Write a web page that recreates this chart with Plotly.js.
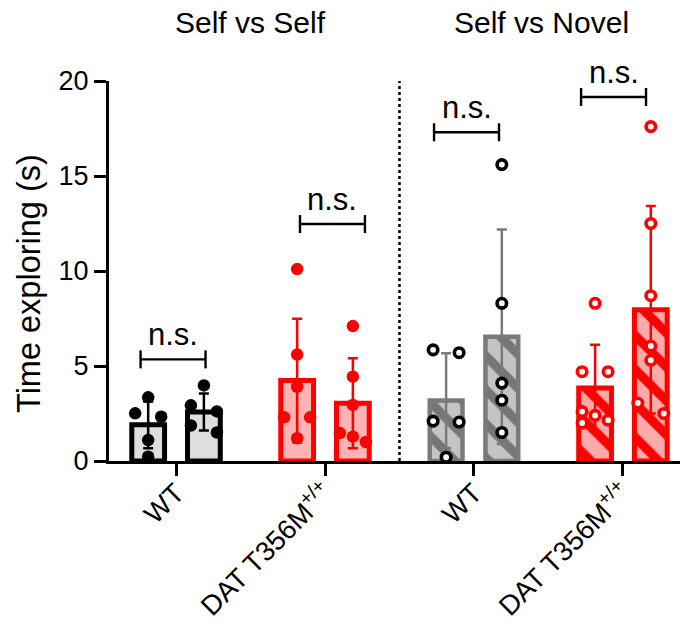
<!DOCTYPE html>
<html>
<head>
<meta charset="utf-8">
<script src="https://cdn.plot.ly/plotly-3.0.1.min.js"></script>
<style>
  html, body { margin: 0; padding: 0; background: #fff; }
  #chart { width: 680px; height: 632px; }
</style>
</head>
<body>
<div id="chart"></div>
<script>
// ---- data -------------------------------------------------------------
const genotypes = ['WT', 'DAT T356M<sup>+/+</sup>', 'WT', 'DAT T356M<sup>+/+</sup>'];
const sessions = ['Self vs Self', 'Self vs Novel'];
const comparisons = ['n.s.', 'n.s.', 'n.s.', 'n.s.'];
const yAxisTitle = 'Time exploring (s)';
const yTicks = [0, 5, 10, 15, 20];

// time exploring (s) per animal, first and second stimulus of each pair
const wtSelfFirst    = [3.35, 2.51, 2.33, 1.1, 0.23];
const wtSelfSecond   = [3.98, 2.93, 2.61, 1.87, 1.5];
const datSelfFirst   = [10.1, 5.6, 3.9, 2.3, 2.3, 1.2];
const datSelfSecond  = [7.1, 4.44, 2.95, 1.47, 1.28, 1.0];
const wtNovelFirst   = [5.85, 5.7, 2.1, 2.05, 0.2];
const wtNovelSecond  = [15.6, 8.3, 4.1, 3.2, 1.5];
const datNovelFirst  = [8.3, 4.7, 4.7, 2.6, 2.4, 2.15, 2.0];
const datNovelSecond = [17.6, 12.5, 8.7, 6.05, 5.3, 3.05, 2.5];

// ---- geometry & styles -----------------------------------------------
const W = 680, H = 632;
const margin = { l: 109, r: 0, t: 81, b: 171, pad: 0 };
const xRange = [-0.45, 3.383];
const yRange = [0, 20];
const plotW = W - margin.l - margin.r;
const plotH = H - margin.t - margin.b;
const pxPerX = plotW / (xRange[1] - xRange[0]);
const pxPerY = plotH / (yRange[1] - yRange[0]);

const barOffset = 0.187;     // distance of each bar from its category tick
const barWidth = 0.22;
const FONT = 'Arial, "Liberation Sans", Helvetica, sans-serif';

const styles = [
  { fill: '#dedede', line: '#000000', lineW: 5,   err: '#000000', dot: '#000000', open: false },
  { fill: '#ffb3b3', line: '#ff0000', lineW: 5,   err: '#ff0000', dot: '#ff0000', open: false },
  { fill: '#c4c4c4', line: '#7a7a7a', lineW: 4.5, err: '#7a7a7a', dot: '#000000', open: true, hatch: '#767676' },
  { fill: '#ffaaaa', line: '#ff0000', lineW: 5,   err: '#ff0000', dot: '#ff0000', open: true, hatch: '#ff0000' }
];

const groups = [
  [wtSelfFirst, wtSelfSecond],
  [datSelfFirst, datSelfSecond],
  [wtNovelFirst, wtNovelSecond],
  [datNovelFirst, datNovelSecond]
];

// ---- helpers ------------------------------------------------------------
const mean = a => a.reduce((s, v) => s + v, 0) / a.length;
const sd = a => {
  const m = mean(a);
  return Math.sqrt(a.reduce((s, v) => s + (v - m) * (v - m), 0) / (a.length - 1));
};

// spread points of similar value side by side (simple column swarm)
function swarmOffsets(values) {
  const step = 13 / pxPerX;
  const order = values.map((v, i) => i).sort((a, b) => values[b] - values[a]);
  const offs = new Array(values.length).fill(0);
  let cluster = [];
  const flush = () => {
    const n = cluster.length;
    cluster.forEach((idx, k) => {
      if (n === 1) offs[idx] = 0;
      else if (n === 2) offs[idx] = (k === 0 ? -1 : 1) * step;
      else offs[idx] = [-1, 0, 1][k % 3] * step;
    });
    cluster = [];
  };
  order.forEach(idx => {
    if (cluster.length) {
      const prev = values[cluster[cluster.length - 1]];
      if ((prev - values[idx]) * pxPerY >= 12) flush();
    }
    cluster.push(idx);
  });
  flush();
  return offs;
}

// ---- traces -------------------------------------------------------------
const traces = [];
groups.forEach((pair, g) => {
  const st = styles[g];
  const xs = [g - barOffset, g + barOffset];
  const marker = {
    color: st.fill,
    line: { color: st.line, width: st.lineW }
  };
  if (st.hatch) {
    marker.pattern = { shape: '\\', fgcolor: st.hatch, bgcolor: st.fill, size: 24, solidity: 0.38 };
  }
  traces.push({
    type: 'bar',
    x: xs,
    y: pair.map(mean),
    width: [barWidth, barWidth],
    marker: marker,
    error_y: { type: 'data', array: pair.map(sd), visible: true, color: st.err, thickness: 2.5, width: 5 },
    hoverinfo: 'skip',
    showlegend: false
  });
});

groups.forEach((pair, g) => {
  const st = styles[g];
  pair.forEach((vals, side) => {
    const cx = g + (side === 0 ? -barOffset : barOffset);
    const offs = swarmOffsets(vals);
    traces.push({
      type: 'scatter',
      mode: 'markers',
      x: vals.map((v, i) => cx + offs[i]),
      y: vals,
      marker: st.open
        ? { symbol: 'circle', size: 9.5, color: '#ffffff', line: { color: st.dot, width: 3.6 } }
        : { symbol: 'circle', size: 12.5, color: st.dot, line: { width: 0 } },
      hoverinfo: 'skip',
      showlegend: false
    });
  });
});

// ---- significance brackets ---------------------------------------------
const brackets = [
  { center: -0.02, level: 5.35 },
  { center: 0.05,  level: 12.47 },
  { center: -0.05, level: 17.3 },
  { center: -0.063, level: 19.16 }
];
const bracketHalf = 0.218;
const tickHalf = 9 / pxPerY;

const shapes = [];
const annotations = [];
brackets.forEach((b, g) => {
  const x0 = g + b.center - bracketHalf, x1 = g + b.center + bracketHalf;
  const ln = { color: '#000', width: 2.4 };
  shapes.push({ type: 'line', xref: 'x', yref: 'y', x0: x0, x1: x1, y0: b.level, y1: b.level, line: ln });
  shapes.push({ type: 'line', xref: 'x', yref: 'y', x0: x0, x1: x0, y0: b.level - tickHalf, y1: b.level + tickHalf, line: ln });
  shapes.push({ type: 'line', xref: 'x', yref: 'y', x0: x1, x1: x1, y0: b.level - tickHalf, y1: b.level + tickHalf, line: ln });
  annotations.push({
    xref: 'x', yref: 'y', x: g + b.center, y: b.level,
    text: comparisons[g], showarrow: false,
    xanchor: 'center', yanchor: 'bottom', yshift: 5,
    font: { family: FONT, size: 31, color: '#000' }
  });
});

// dotted divider between the two sessions
shapes.push({ type: 'line', xref: 'x', yref: 'y', x0: 1.5, x1: 1.5, y0: 0, y1: 20,
  line: { color: '#000', width: 2.5, dash: 'dot' } });

// session headings
[0.5, 2.45].forEach((x, i) => {
  annotations.push({
    xref: 'x', yref: 'paper', x: x, y: (plotH + margin.t - 22) / plotH,
    text: sessions[i], showarrow: false, xanchor: 'center', yanchor: 'middle',
    font: { family: FONT, size: 30, color: '#000' }
  });
});

// y-axis title
annotations.push({
  xref: 'paper', yref: 'paper', x: (29 - margin.l) / plotW, y: (plotH - (284 - margin.t)) / plotH,
  text: yAxisTitle, showarrow: false, textangle: -90, xanchor: 'center', yanchor: 'middle',
  font: { family: FONT, size: 32.5, color: '#000' }
});

const layout = {
  width: W, height: H,
  margin: margin,
  paper_bgcolor: '#ffffff',
  plot_bgcolor: '#ffffff',
  barmode: 'overlay',
  showlegend: false,
  xaxis: {
    range: xRange,
    tickvals: [0, 1, 2, 3],
    ticktext: genotypes,
    tickangle: -45,
    ticks: 'outside', ticklen: 12, tickwidth: 3, tickcolor: '#000',
    ticklabelstandoff: -10,
    showline: true, linewidth: 3, linecolor: '#000',
    showgrid: false, zeroline: false,
    tickfont: { family: FONT, size: 27.5, color: '#000' }
  },
  yaxis: {
    range: yRange,
    tickvals: yTicks,
    ticks: 'outside', ticklen: 12, tickwidth: 3, tickcolor: '#000',
    showline: true, linewidth: 3, linecolor: '#000',
    showgrid: false, zeroline: false,
    tickfont: { family: FONT, size: 27, color: '#000' }
  },
  shapes: shapes,
  annotations: annotations
};

Plotly.newPlot('chart', traces, layout, { staticPlot: true, displayModeBar: false });
</script>
</body>
</html>
